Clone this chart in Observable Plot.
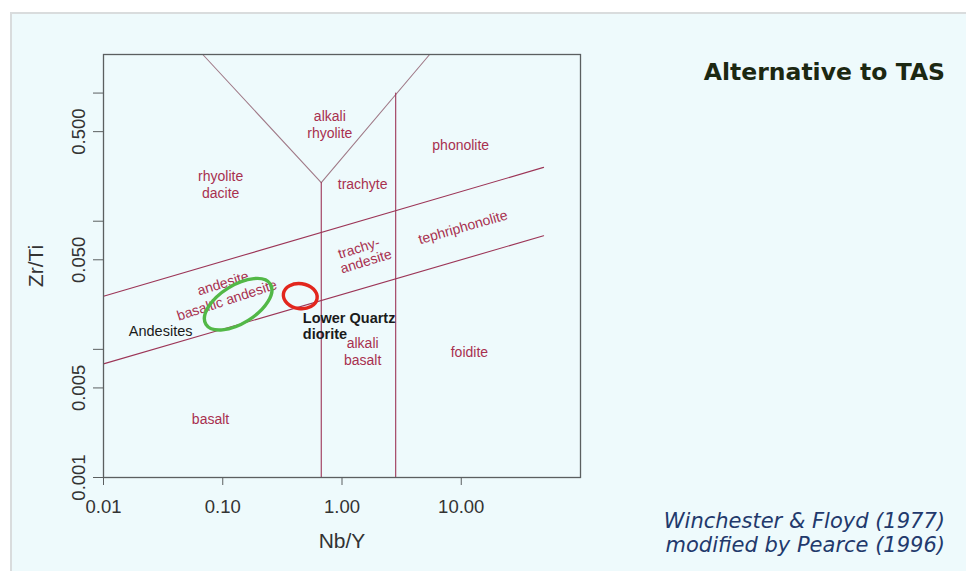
<!DOCTYPE html>
<html>
<head>
<meta charset="utf-8">
<script src="https://cdn.jsdelivr.net/npm/d3@7"></script>
<script src="https://cdn.jsdelivr.net/npm/@observablehq/plot@0.6"></script>
<style>
  html, body { margin: 0; padding: 0; background: #ffffff; }
  #slide { position: relative; width: 966px; height: 571px; overflow: hidden; background: #ffffff; }
  #panel { position: absolute; left: 10px; top: 12px; right: -4px; bottom: -4px;
           background: #eefafc; border-left: 2px solid #d9dcdd; border-top: 2px solid #d9dcdd; }
  #chart { position: absolute; left: 0; top: 0; }
  #title { position: absolute; right: 21px; top: 58px; line-height: 24px;
           font: bold 23.5px "DejaVu Sans", Verdana, sans-serif; color: #1c2812; white-space: nowrap; }
  #source { position: absolute; right: 21px; top: 509px; line-height: 26px; text-align: right;
            font: italic 21px "DejaVu Sans", Verdana, sans-serif; color: #22396c; white-space: nowrap; }
</style>
</head>
<body>
<div id="slide">
  <div id="panel"></div>
  <div id="chart"></div>
  <div id="title">Alternative to TAS</div>
  <div id="source">Winchester &amp; Floyd (1977)<br>modified by Pearce (1996)</div>
</div>
<script>
// Axis ticks (log scales)
const xTicks = [0.01, 0.1, 1, 10];
const yTicks = [0.001, 0.005, 0.01, 0.05, 0.1, 0.5, 1];
const yTickLabels = [0.001, 0.005, 0.05, 0.5];

// Field boundaries, as [Nb/Y, Zr/Ti] vertices
const vLeft = [[0.068, 2], [0.67, 0.2]];
const vRight = [[0.67, 0.2], [5.43, 2]];
const stem = [[0.67, 0.2], [0.67, 0.001]];
const phonoliteEdge = [[2.82, 1.0], [2.82, 0.001]];
const upperBoundary = [[0.01, 0.026], [49, 0.263]];
const lowerBoundary = [[0.01, 0.0077], [49, 0.077]];

// Rock-type field names
const fieldNames = ["alkali\nrhyolite", "rhyolite\ndacite", "trachyte", "phonolite", "trachy-", "andesite",
  "tephriphonolite", "andesite", "basaltic andesite", "alkali\nbasalt", "foidite", "basalt"];
const fieldNbY = [0.79, 0.096, 1.49, 9.9, 1.38, 1.58, 10.3, 0.1, 0.108, 1.49, 11.7, 0.079];
const fieldZrTi = [0.57, 0.194, 0.197, 0.397, 0.0624, 0.0493, 0.091, 0.0332, 0.0245, 0.0097, 0.0096, 0.0029];
const fieldAngle = [0, 0, 0, 0, -17, -17, -16, -17, -18, 0, 0, 0];

// Sample group annotations
const groupNames = ["Andesites", "Lower Quartz\ndiorite"];
const groupNbY = [0.0163, 0.469];
const groupZrTi = [0.0137, 0.0152];
const groupBold = [false, true];

// Highlighted sample clusters: centre [Nb/Y, Zr/Ti]
const andesiteCluster = [0.136, 0.0223];
const dioriteCluster = [0.451, 0.0258];

const fields = fieldNames.map((t, i) => ({t, x: fieldNbY[i], y: fieldZrTi[i], a: fieldAngle[i]}));
const groups = groupNames.map((t, i) => ({t, x: groupNbY[i], y: groupZrTi[i], bold: groupBold[i]}));

const lineColor = "#9c3557";
const vColor = "#a07a88";
const fieldColor = "#a8304f";

const boundary = (pts, stroke) => Plot.line(pts, {x: d => d[0], y: d => d[1], stroke, strokeWidth: 1.1});

const plot = Plot.plot({
  width: 966,
  height: 571,
  marginLeft: 103,
  marginRight: 386,
  marginTop: 54,
  marginBottom: 94,
  style: {background: "transparent", fontFamily: "'Liberation Sans', Arial, sans-serif", color: "#333", overflow: "visible"},
  x: {type: "log", domain: [0.01, 100]},
  y: {type: "log", domain: [0.001, 2]},
  marks: [
    boundary(vLeft, vColor),
    boundary(vRight, vColor),
    boundary(stem, lineColor),
    boundary(phonoliteEdge, lineColor),
    boundary(upperBoundary, lineColor),
    boundary(lowerBoundary, lineColor),
    Plot.frame({stroke: "#5b5f60", strokeWidth: 1.3}),
    Plot.axisX({ticks: xTicks, tickFormat: d => d.toFixed(2), tickSize: 8, tickPadding: 14,
      fontSize: 18.5, label: null, stroke: "#5b5f60", fill: "#333"}),
    Plot.axisY({ticks: yTicks, tickFormat: () => "", tickSize: 10, label: null, stroke: "#5b5f60"}),
    Plot.text(yTickLabels, {y: d => d, frameAnchor: "left", dx: -19, rotate: -90, text: d => d.toFixed(3),
      textAnchor: "middle", lineAnchor: "bottom", fontSize: 18.5, fill: "#333"}),
    Plot.text(["Nb/Y"], {frameAnchor: "bottom", dy: 64, text: d => d, lineAnchor: "middle", fontSize: 21, fill: "#333"}),
    Plot.text(["Zr/Ti"], {frameAnchor: "left", dx: -67, rotate: -90, text: d => d, textAnchor: "middle",
      lineAnchor: "middle", fontSize: 21, fill: "#333"}),
    Plot.text(fields, {x: "x", y: "y", text: "t", rotate: "a", fontSize: 14, lineHeight: 1.2, fill: fieldColor}),
    Plot.text(groups.filter(d => !d.bold), {x: "x", y: "y", text: "t", textAnchor: "start", fontSize: 14.5, fill: "#1a1a1a"}),
    Plot.text(groups.filter(d => d.bold), {x: "x", y: "y", text: "t", textAnchor: "start", fontSize: 14.5,
      fontWeight: "bold", lineHeight: 1.05, fill: "#1a1a1a"})
  ]
});

// Outline the two sample clusters at their data positions
const sx = plot.scale("x"), sy = plot.scale("y");
const svg = d3.select(plot);
const ring = (c, rx, ry, angle, stroke) => {
  const cx = sx.apply(c[0]), cy = sy.apply(c[1]);
  svg.append("ellipse")
    .attr("cx", cx).attr("cy", cy).attr("rx", rx).attr("ry", ry)
    .attr("transform", `rotate(${angle} ${cx} ${cy})`)
    .attr("fill", "none").attr("stroke", stroke).attr("stroke-width", 3.4);
};
ring(andesiteCluster, 38, 19, -32, "#52b847");
ring(dioriteCluster, 17, 12.5, 8, "#e2261d");

document.getElementById("chart").appendChild(plot);
</script>
</body>
</html>
